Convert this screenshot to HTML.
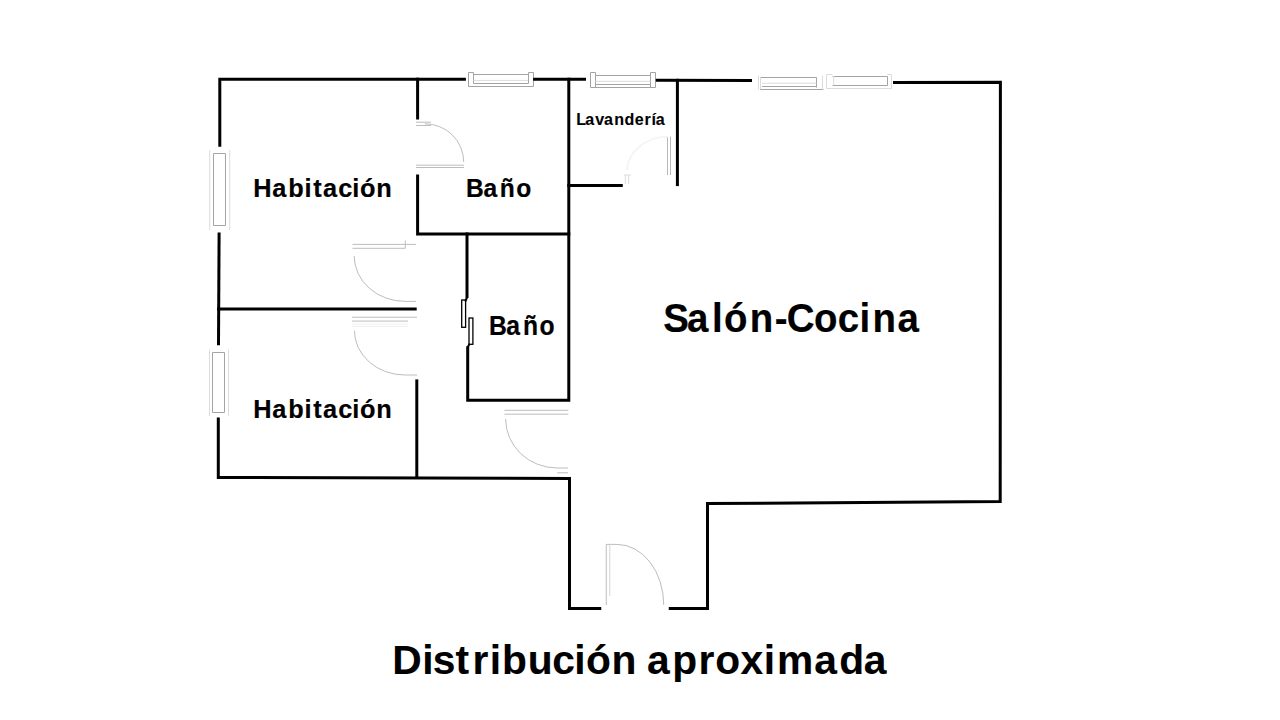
<!DOCTYPE html>
<html>
<head>
<meta charset="utf-8">
<style>
html,body{margin:0;padding:0;background:#fff;}
body{width:1280px;height:720px;overflow:hidden;}
svg{display:block;}
text{font-family:"Liberation Sans",sans-serif;font-weight:bold;fill:#000;}
</style>
</head>
<body>
<svg width="1280" height="720" viewBox="0 0 1280 720">
<rect width="1280" height="720" fill="#fff"/>

<!-- windows / doors (light gray) -->
<g fill="none" stroke="#a4a4a4" stroke-width="1">
  <!-- top window 1 -->
  <path d="M468.5 86.5 V72.5 H473.5 V83.5 H528.5 V72.5 H533.5 V86.5 Z M473.5 74.5 H528.5"/>
  <!-- top window 2 -->
  <path d="M590.5 72.5 V87.5 H655.5 V72.5 M590.5 72.5 H595.5 M650.5 72.5 H655.5 M595.5 72.5 V87.5 M650.5 72.5 V87.5 M595.5 75.5 H650.5 M595.5 84.5 H650.5"/>
  <!-- top window 3 -->
  <path d="M760.5 77.5 H816.5 V87.5 M762 86.5 H816.5 M760 89.5 H823.5"/>
  <!-- top window 4 -->
  <path d="M832.5 76.5 H887.5 V85.5 H832.5"/>
  <!-- left window top -->
  <path d="M213.5 153.5 H225.5 V225.5 H213.5 Z"/>
  <!-- left window bottom -->
  <path d="M212.5 352.5 H224.5 V412.5 H212.5 Z"/>
  <!-- lavanderia door leaf -->
  <path d="M667.5 136.5 V175 M670.5 136.5 V175" stroke="#b8b8b8"/>
</g>
<g fill="none" stroke="#dcdcdc" stroke-width="1">
  <path d="M760.5 77.4 V89.4 M833.7 76 V85.4 M473.4 80.4 H528.1 M595.3 81.3 H650.4 M762 83.2 H816.4 M760 89.4"/>
  <path d="M209.7 150 V230 M229.7 150 V230"/>
  <path d="M758.5 75.5 V89.5 M822.5 75.5 V89.5 M826.5 74.5 V88.5 H891.5 V74.5 M826.5 74.5 H832.5 M887.5 74.5 H891.5 M209.5 349.5 V416 M228.5 349.5 V416"/>
  <path d="M352 324.2 H408 M352 326.4 H408" stroke="#efefef"/>
  <path d="M625.3 175 V183.9 M628.7 175 V183.9 M624 175 H631"/>
  <path d="M627 170 A41 35 0 0 1 668 136.7" stroke="#f3f3f3" stroke-width="1.6"/>
</g>
<g fill="none" stroke="#bdbdbd" stroke-width="1">
  <!-- door Bano 1 -->
  <path d="M416 122.2 H431 M416 125.5 H431"/>
  <path d="M425 123.8 A38.7 38.2 0 0 1 463.7 162"/>
  <path d="M416 165.2 H464 M416 167.5 H464"/>
  <!-- door hab 1 -->
  <path d="M354.2 256 A51 45.4 0 0 0 405.3 301.4 H416"/>
  <path d="M352.5 244.4 H416 M352.5 248.3 H405.3 V240.5"/>
  <!-- door hab 2 -->
  <path d="M354.4 330.6 A50.6 44.4 0 0 0 405 375 H417"/>
  <path d="M352 317.2 H417 M352 321.1 H408"/>
  <!-- door hall -->
  <path d="M505.6 418.9 A51.6 49.1 0 0 0 557.2 468 H568"/>
  <path d="M504.4 410.3 H568.3 M504.4 414.2 H568.3 M557.2 472.8 H568"/>
  <!-- entrance door -->
  <path d="M606.25 605 V544.4 H617 A46.75 60.6 0 0 1 663.75 605"/>
  <path d="M609.75 544.4 V596" stroke="#d4d4d4"/>
</g>
<!-- walls -->
<g fill="none" stroke="#000" stroke-width="3" stroke-linecap="butt" stroke-linejoin="miter">
  <path d="M219.8 146.7 L219.8 79.2 H465.9"/>
  <path d="M533.1 79.2 H586"/>
  <path d="M655.75 80.3 L752 80.45"/>
  <path d="M893 82.55 L1000.4 82.3 L1000.2 501.6 L707.5 503.5 V608.4 H668.75"/>
  <path d="M601.25 608.4 H569.5 V478.5 L218.3 477.5 V417.5"/>
  <path d="M218.5 345.3 L219.1 232.5"/>
  <path d="M217 309 H416.7"/>
  <path d="M417.6 77.7 V119.5"/>
  <path d="M417.6 174.5 V234 H570.3"/>
  <path d="M416.8 379.4 V479"/>
  <path d="M568.8 77.7 V400.3 H467.7 V346.3"/>
  <path d="M467 297.5 L465.2 301.5 M469.6 343.8 L467.8 347" stroke-width="2"/>
  <path d="M567.3 185.6 H622.8"/>
  <path d="M677.4 78.8 V186.1"/>
  <path d="M467 232.5 V298"/>
</g>
<!-- sliding door panels -->
<g fill="none" stroke="#000" stroke-width="1.3">
  <rect x="461.7" y="300" width="3.9" height="27.3"/>
  <rect x="469" y="318" width="3.9" height="26.3"/>
</g>

<!-- labels -->
<text transform="translate(252.69,196.75) scale(0.96,1)" x="0.71 20.31 37.17 54.03 63.05 73.21 89.15 103.76 111.71 128.78" y="0" font-size="26.40" stroke="#000" stroke-width="0.2">Habitación</text>
<text transform="translate(252.69,418.25) scale(0.96,1)" x="0.71 20.31 37.17 54.03 63.05 73.21 89.15 103.76 111.71 128.78" y="0" font-size="26.40" stroke="#000" stroke-width="0.2">Habitación</text>
<text transform="translate(466.09,196.80) scale(0.94,1)" x="-0.03 18.46 35.92 53.39" y="0" font-size="26.17" stroke="#000" stroke-width="0.2">Baño</text>
<text transform="translate(488.93,335.00) scale(0.92,1)" x="-0.01 18.97 36.91 54.86" y="0" font-size="26.85" stroke="#000" stroke-width="0.2">Baño</text>
<text transform="translate(576.57,125.40) scale(0.98,1)" x="-0.25 8.99 19.09 28.06 38.43 48.86 59.30 69.24 76.56 80.83" y="0" font-size="16.38" stroke="#000" stroke-width="0.1">Lavandería</text>
<text transform="translate(664.65,332.00) scale(0.94,1)" x="-1.51 23.66 50.25 63.19 90.46 117.11 129.86 158.79 184.23 207.38 221.10 247.77" y="0" font-size="40.88" stroke="#000" stroke-width="0.2">Salón-Cocina</text>
<text transform="translate(392.00,673.60) scale(0.98,1)" x="0.25 30.75 41.59 64.81 82.10 99.85 112.23 138.46 163.59 186.08 198.02 224.08 249.77 260.22 285.94 312.72 329.93 355.55 379.41 392.97 430.89 456.31 481.45" y="0" font-size="41.57" stroke="#000" stroke-width="0.1">Distribución aproximada</text>
</svg>
</body>
</html>
